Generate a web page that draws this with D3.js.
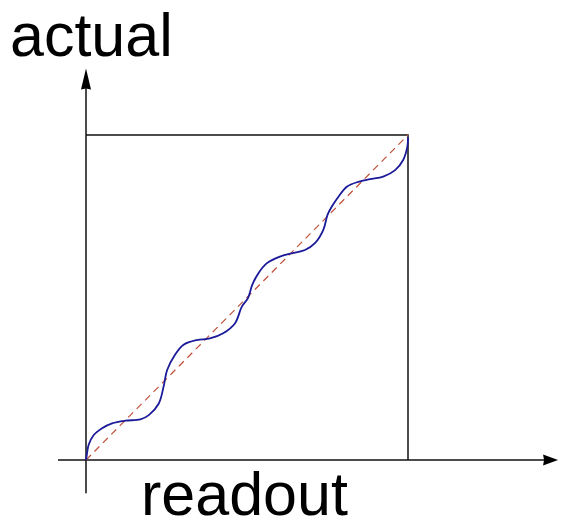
<!DOCTYPE html>
<html>
<head>
<meta charset="utf-8">
<script src="https://cdn.jsdelivr.net/npm/d3@7"></script>
<style>
  html, body { margin: 0; padding: 0; background: #fff; }
  svg { display: block; }
</style>
</head>
<body>
<svg id="chart" width="566" height="529"></svg>
<script>
// ---- data (normalised readout / actual, 0..1) ----
const readout = [0, 0.002, 0.008, 0.024, 0.050, 0.081, 0.122, 0.169, 0.195, 0.226, 0.241, 0.252,
  0.276, 0.302, 0.344, 0.385, 0.426, 0.463, 0.484, 0.503, 0.516, 0.535, 0.561, 0.602, 0.639,
  0.680, 0.711, 0.737, 0.750, 0.763, 0.784, 0.810, 0.846, 0.882, 0.923, 0.960, 0.985, 0.998, 1.0];
const actual = [0, 0.012, 0.046, 0.077, 0.098, 0.113, 0.121, 0.125, 0.138, 0.174, 0.226, 0.277,
  0.323, 0.354, 0.369, 0.374, 0.390, 0.421, 0.472, 0.498, 0.538, 0.574, 0.605, 0.626, 0.636,
  0.646, 0.667, 0.708, 0.754, 0.779, 0.810, 0.841, 0.856, 0.864, 0.872, 0.892, 0.923, 0.964, 0.992];
const idealLine = [0, 1];
const xAxisExtent = [-0.087, 1.466];
const yAxisExtent = [-0.102, 1.205];
const xLabel = "readout";
const yLabel = "actual";

const svg = d3.select("#chart");
const x = d3.scaleLinear().domain([0, 1]).range([86, 408]);
const y = d3.scaleLinear().domain([0, 1]).range([460, 135]);

// box (top and right sides)
svg.append("path")
  .attr("d", `M${x(0)},${y(1)}H${x(1)}V${y(0)}`)
  .attr("fill", "none").attr("stroke", "#111").attr("stroke-width", 1.5);

// axes lines
svg.append("line")
  .attr("x1", x(xAxisExtent[0])).attr("x2", x(xAxisExtent[1]) - 8)
  .attr("y1", y(0)).attr("y2", y(0))
  .attr("stroke", "#111").attr("stroke-width", 1.5);
svg.append("line")
  .attr("x1", x(0)).attr("x2", x(0))
  .attr("y1", y(yAxisExtent[0])).attr("y2", y(yAxisExtent[1]) + 10)
  .attr("stroke", "#111").attr("stroke-width", 1.5);

// arrow heads
const xt = x(xAxisExtent[1]), y0 = y(0);
svg.append("path")
  .attr("d", `M${xt},${y0}L${xt - 15},${y0 - 5.5}L${xt - 14},${y0}L${xt - 15},${y0 + 5.5}Z`)
  .attr("fill", "#000");
const yt = y(yAxisExtent[1]), x0 = x(0);
svg.append("path")
  .attr("d", `M${x0},${yt}L${x0 - 5},${yt + 21}L${x0},${yt + 20}L${x0 + 5},${yt + 21}Z`)
  .attr("fill", "#000");

// ideal dashed diagonal
svg.append("line")
  .attr("x1", x(idealLine[0])).attr("y1", y(idealLine[0]))
  .attr("x2", x(idealLine[1])).attr("y2", y(idealLine[1]))
  .attr("stroke", "#c0503a").attr("stroke-width", 1.2)
  .attr("stroke-dasharray", "7,5");

// measured curve
const pts = readout.map((r, i) => [r, actual[i]]);
svg.append("path")
  .datum(pts)
  .attr("d", d3.line().x(d => x(d[0])).y(d => y(d[1])).curve(d3.curveCatmullRom.alpha(0.5)))
  .attr("fill", "none").attr("stroke", "#1a1a9a").attr("stroke-width", 1.8);

// labels
svg.append("text").attr("x", 10).attr("y", 56)
  .attr("font-family", "Liberation Sans, Arial, sans-serif").attr("font-size", 61)
  .attr("fill", "#000").text(yLabel);
svg.append("text").attr("x", 141).attr("y", 515)
  .attr("font-family", "Liberation Sans, Arial, sans-serif").attr("font-size", 61)
  .attr("fill", "#000").text(xLabel);
</script>
</body>
</html>
